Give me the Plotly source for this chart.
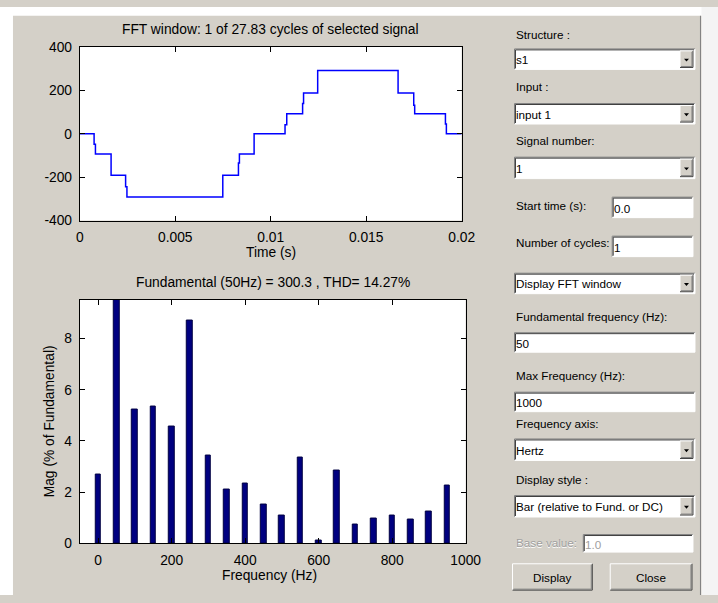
import plotly.graph_objects as go

W, H = 718, 603
FONT = "Liberation Sans, Arial, sans-serif"

# ---------------- data ----------------
sig_time = [0, 0.00075, 0.00082, 0.00164, 0.00240, 0.00247, 0.00749, 0.00831, 0.00836,
            0.00913, 0.01075, 0.01084, 0.01167, 0.01172, 0.01246, 0.01667, 0.01749,
            0.01754, 0.01915, 0.01920, 0.02]
sig_value = [0, -48, -93, -191, -244, -292, -191, -135, -93,
             0, 42, 92, 140, 188, 292, 188, 132,
             92, 45, 0, 0]

freq_hz = [0, 50, 100, 150, 200, 250, 300, 350, 400, 450,
           500, 550, 600, 650, 700, 750, 800, 850, 900, 950]
mag_pct = [2.70, 100.0, 5.23, 5.36, 4.55, 8.71, 3.43, 2.10, 2.35, 1.52,
           1.10, 3.35, 0.10, 2.84, 0.75, 0.98, 1.10, 0.93, 1.24, 2.26]

time_ticks = [0, 0.005, 0.01, 0.015, 0.02]
time_tick_text = ["0", "0.005", "0.01", "0.015", "0.02"]
sig_ticks = [-400, -200, 0, 200, 400]
sig_tick_text = ["-400", "-200", "0", "200", "400"]
freq_ticks = [0, 200, 400, 600, 800, 1000]
mag_ticks = [0, 2, 4, 6, 8]

top_title = "FFT window: 1 of 27.83 cycles of selected signal"
bottom_title = "Fundamental (50Hz) = 300.3 , THD= 14.27%"

# ---------------- helpers (target pixel -> paper) ----------------
# horizontal calibration of the rendered page (measured): shown_x ~ 2 + 0.975 * page_x
SX, OXC = 0.975, 2.0

def px(x):
    return ((x - OXC) / SX) / W

def py(y):
    return 1 - y / H

PANEL = 11.7
AXF = 13.8

shapes = []
annotations = []

def rect(x0, y0, x1, y1, fill, line_color=None, lw=0):
    shapes.append(dict(type="rect", xref="paper", yref="paper",
                       x0=px(x0), x1=px(x1), y0=py(y1), y1=py(y0),
                       fillcolor=fill, line=dict(width=lw, color=line_color or fill),
                       layer="above"))

def seg(x0, y0, x1, y1, color, lw=1):
    shapes.append(dict(type="line", xref="paper", yref="paper",
                       x0=px(x0), x1=px(x1), y0=py(y0), y1=py(y1),
                       line=dict(color=color, width=lw), layer="above"))

def text(s, x, y, size=PANEL, color="black", anchor="left", angle=0):
    annotations.append(dict(text=s, x=px(x), y=py(y), xref="paper", yref="paper",
                            xanchor=anchor, yanchor="middle", showarrow=False,
                            textangle=angle, borderpad=0,
                            font=dict(family=FONT, size=size, color=color)))

def sunken(x0, y0, x1, y1, fill="white"):
    rect(x0, y0, x1, y1, fill)
    seg(x0, y0, x1, y0, "#808080")
    seg(x0, y0, x0, y1, "#808080")
    seg(x0 + 1, y0 + 1, x1 - 1, y0 + 1, "#404040")
    seg(x0 + 1, y0 + 1, x0 + 1, y1 - 1, "#404040")
    seg(x0, y1, x1, y1, "#ffffff")
    seg(x1, y0, x1, y1, "#ffffff")

def raised(x0, y0, x1, y1):
    rect(x0, y0, x1, y1, "#d4d0c8")
    seg(x0, y0, x1, y0, "#ffffff")
    seg(x0, y0, x0, y1, "#ffffff")
    seg(x0, y1, x1, y1, "#404040")
    seg(x1, y0, x1, y1, "#404040")
    seg(x0 + 1, y1 - 1, x1 - 1, y1 - 1, "#808080")
    seg(x1 - 1, y0 + 1, x1 - 1, y1 - 1, "#808080")

def dropdown(y0, y1, label):
    sunken(514, y0, 695, y1)
    raised(680, y0 + 2, 693, y1 - 2)
    cy = (y0 + y1) / 2 + 1
    shapes.append(dict(type="path", xref="paper", yref="paper",
                       path=f"M {px(684)},{py(cy - 1.5)} L {px(689)},{py(cy - 1.5)} L {px(686.5)},{py(cy + 1.5)} Z",
                       fillcolor="black", line=dict(width=0), layer="above"))
    text(label, 515, (y0 + y1) / 2 + 0.5)

def editbox(x0, y0, x1, y1, label, color="black"):
    sunken(x0, y0, x1, y1)
    text(label, x0 + 1, (y0 + y1) / 2 + 1, color=color)

# ---------------- window frame ----------------
rect(-20, 0, 760, 9, "white")
rect(-20, 0, 11, H, "white")
rect(701.5, 0, 760, H, "#f4f4f4")
seg(700.5, 9, 700.5, H, "#808080")

# ---------------- right control panel ----------------
text("Structure :", 514, 28)
dropdown(43, 64, "s1")
text("Input :", 514, 82)
dropdown(99, 120, "input 1")
text("Signal number:", 514, 137)
dropdown(154, 176, "1")
text("Start time (s):", 515, 204)
editbox(612, 195, 693, 216, "0.0")
text("Number of cycles:", 514, 242)
editbox(612, 235, 693, 256, "1")
dropdown(273, 294, "Display FFT window")
text("Fundamental frequency (Hz):", 514, 317)
editbox(514, 334, 695, 354, "50")
text("Max Frequency (Hz):", 514, 378)
editbox(514, 395, 695, 415, "1000")
text("Frequency axis:", 514, 427)
dropdown(443, 465, "Hertz")
text("Display style :", 514, 485)
dropdown(501, 523, "Bar (relative to Fund. or DC)")
text("Base value:", 515, 550, color="#ffffff")
text("Base value:", 514, 549, color="#a0a0a0")
editbox(583, 541, 693, 559, "1.0", color="#a0a0a0")
raised(512, 571, 592, 598)
text("Display", 552, 585, anchor="center")
raised(610, 571, 692, 598)
text("Close", 651, 585, anchor="center")

# ---------------- plot titles and labels ----------------
text(top_title, 269.5, 23, size=AXF, anchor="center")
text("Time (s)", 270, 252, size=AXF, anchor="center")
text(bottom_title, 271.5, 283, size=AXF, anchor="center")
text("Frequency (Hz)", 268, 583, size=AXF, anchor="center")
text("Mag (% of Fundamental)", 48, 425, size=AXF, anchor="center", angle=-90)

# ---------------- figure ----------------
fig = go.Figure()
fig.add_trace(go.Scatter(x=sig_time, y=sig_value, mode="lines",
                         line=dict(color="#0000ff", width=1.5, shape="hv"),
                         xaxis="x", yaxis="y", showlegend=False, hoverinfo="skip"))
fig.add_trace(go.Bar(x=freq_hz, y=mag_pct, width=15,
                     marker=dict(color="#000080", line=dict(color="#000040", width=1)),
                     xaxis="x2", yaxis="y2", showlegend=False, hoverinfo="skip"))

axis_common = dict(showline=True, linecolor="black", linewidth=1, mirror="ticks",
                   ticks="inside", ticklen=5, tickcolor="black", showgrid=False,
                   zeroline=False, ticklabelstandoff=4,
                   tickfont=dict(family=FONT, size=AXF, color="black"))

fig.update_layout(
    width=W, height=H,
    margin=dict(l=0, r=0, t=0, b=0),
    paper_bgcolor="#d4d0c8",
    plot_bgcolor="white",
    bargap=0,
    showlegend=False,
    xaxis=dict(domain=[px(78), px(461)], range=[0, 0.02], tickvals=time_ticks,
               ticktext=time_tick_text, anchor="y", **axis_common),
    yaxis=dict(domain=[py(219), py(41)], range=[-400, 400], tickvals=sig_ticks,
               ticktext=sig_tick_text, anchor="x", **axis_common),
    xaxis2=dict(domain=[px(78), px(465)], range=[-50, 1000], tickvals=freq_ticks,
                anchor="y2", **axis_common),
    yaxis2=dict(domain=[py(550), py(300)], range=[0, 9.52], tickvals=mag_ticks,
                anchor="x2", **axis_common),
    shapes=shapes,
    annotations=annotations,
)

fig.write_html(
    "out.html",
    config={"displayModeBar": False},
    post_script=("document.documentElement.style.margin='0';"
                 "document.documentElement.style.overflow='hidden';"
                 "document.body.style.margin='0';"
                 "document.body.style.overflow='hidden';"),
)
